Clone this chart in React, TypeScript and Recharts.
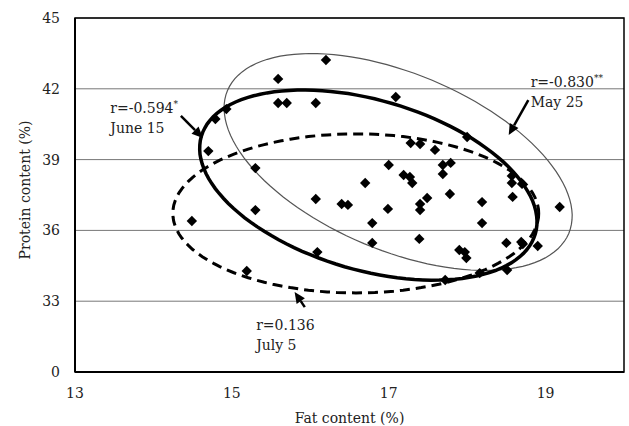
import { ScatterChart, Scatter, XAxis, YAxis, CartesianGrid, ReferenceArea } from 'recharts';

// fat (%) and protein (%) of each sample
const fatContent = [
  15.59, 16.2, 15.59, 15.7, 16.07, 17.09, 14.93, 14.79, 14.7, 15.3, 15.3, 14.49, 16.07, 16.09,
  15.19, 18.0, 17.28, 17.4, 17.59, 17.0, 17.19, 17.27, 17.3, 17.69, 17.79, 17.69, 16.7, 17.78,
  18.57, 18.57, 18.7, 18.58, 18.19, 19.18, 18.19, 16.4, 16.48, 16.99, 17.4, 17.4, 17.49, 16.79,
  16.79, 17.39, 17.9, 17.97, 17.99, 18.5, 18.69, 18.71, 18.9, 18.51, 18.16, 17.72,
];
const proteinContent = [
  42.42, 43.22, 41.4, 41.4, 41.4, 41.65, 41.14, 40.72, 39.36, 38.64, 36.86, 36.4, 37.33, 35.08,
  34.28, 39.96, 39.7, 39.66, 39.41, 38.77, 38.35, 38.26, 38.01, 38.77, 38.86, 38.39, 38.01, 37.54,
  38.31, 38.01, 37.97, 37.42, 37.2, 36.99, 36.31, 37.12, 37.08, 36.91, 37.12, 36.86, 37.37, 36.31,
  35.47, 35.64, 35.17, 35.08, 34.83, 35.47, 35.51, 35.42, 35.34, 34.32, 34.19, 33.9,
];

// ellipses per sampling date: centre and two conjugate half-axes, in data units
const ellipseDates = ['May 25', 'June 15', 'July 5'];
const ellipseCenterX = [17.12, 16.74, 16.58];
const ellipseCenterY = [38.9, 37.92, 36.72];
const ellipseUx = [2.176, 2.129, 2.333];
const ellipseUy = [-3.025, -2.069, 0];
const ellipseVx = [-0.435, -0.304, 0];
const ellipseVy = [-3.459, -3.457, -3.369];

// annotation labels
const labelR = ['r=-0.830', 'r=-0.594', 'r=0.136'];
const labelSig = ['**', '*', ''];
const labelX = [18.81, 13.45, 15.31];
const labelY = [42.08, 40.97, 31.78];
// arrows: tail -> head
const arrowTailX = [18.78, 14.35, 15.93];
const arrowTailY = [41.52, 40.85, 32.75];
const arrowHeadX = [18.53, 14.63, 15.8];
const arrowHeadY = [40.04, 39.92, 33.39];

const xTicks = [13, 15, 17, 19];
const yTicks = [30, 33, 36, 39, 42, 45];

const points = fatContent.map((x, i) => ({ x, y: proteinContent[i] }));
const ellipses = ellipseDates.map((d, i) => ({
  date: d, x: ellipseCenterX[i], y: ellipseCenterY[i],
  ux: ellipseUx[i], uy: ellipseUy[i], vx: ellipseVx[i], vy: ellipseVy[i],
}));
const labels = ellipseDates.map((d, i) => ({ date: d, r: labelR[i], sig: labelSig[i], x: labelX[i], y: labelY[i] }));
const arrows = ellipseDates.map((d, i) => ({
  x: arrowHeadX[i], y: arrowHeadY[i], tx: arrowTailX[i], ty: arrowTailY[i],
}));

const W = 629;
const H = 426;
const MARGIN = { top: 18, right: 5, bottom: 0, left: 0 };
const Y_AXIS_W = 75;
const X_AXIS_H = 54;
const PX_X = (W - MARGIN.right - Y_AXIS_W) / 7;
const PX_Y = (H - MARGIN.top - X_AXIS_H) / 15;

const FONT = 'DejaVu Serif';
const ellipseStyle = [
  { stroke: '#555', strokeWidth: 1.2 },
  { stroke: '#000', strokeWidth: 3.5 },
  { stroke: '#000', strokeWidth: 3, strokeDasharray: '10 6' },
];

const Diamond = (p: any) => {
  const { cx, cy } = p;
  const r = 5.2;
  return <polygon points={`${cx},${cy - r} ${cx + r},${cy} ${cx},${cy + r} ${cx - r},${cy}`} fill="#000" />;
};

const EllipseShape = (p: any) => {
  const { cx, cy, payload, index } = p;
  const pts: string[] = [];
  for (let k = 0; k <= 120; k++) {
    const t = (k / 120) * Math.PI * 2;
    const dx = payload.ux * Math.cos(t) + payload.vx * Math.sin(t);
    const dy = payload.uy * Math.cos(t) + payload.vy * Math.sin(t);
    pts.push(`${(cx + dx * PX_X).toFixed(1)},${(cy - dy * PX_Y).toFixed(1)}`);
  }
  return <path d={`M${pts.join('L')}Z`} fill="none" {...ellipseStyle[index]} />;
};

const LabelShape = (p: any) => {
  const { cx, cy, payload } = p;
  return (
    <text x={cx} y={cy} fontFamily={FONT} fontSize={14} fill="#222">
      <tspan>{payload.r}</tspan>
      {payload.sig && <tspan fontSize={9} dy={-6}>{payload.sig}</tspan>}
      <tspan x={cx} dy={payload.sig ? 26 : 20}>{payload.date === 'July 5' ? 'July  5' : payload.date}</tspan>
    </text>
  );
};

const ArrowShape = (p: any) => {
  const { cx, cy, payload } = p;
  const x0 = cx + (payload.tx - payload.x) * PX_X;
  const y0 = cy - (payload.ty - payload.y) * PX_Y;
  const ang = Math.atan2(cy - y0, cx - x0);
  const len = 11;
  const half = 5;
  const bx = cx - len * Math.cos(ang);
  const by = cy - len * Math.sin(ang);
  const nx = -Math.sin(ang);
  const ny = Math.cos(ang);
  return (
    <g>
      <line x1={x0} y1={y0} x2={bx} y2={by} stroke="#000" strokeWidth={2.5} />
      <polygon
        points={`${cx},${cy} ${bx + nx * half},${by + ny * half} ${bx - nx * half},${by - ny * half}`}
        fill="#000"
      />
    </g>
  );
};

export default function App() {
  return (
    <div style={{ position: 'absolute', left: 0, top: 0, width: W, height: H, background: '#fff' }}>
      <ScatterChart width={W} height={H} margin={MARGIN}>
        <CartesianGrid vertical={false} stroke="#777" strokeWidth={1} />
        <XAxis
          type="number"
          dataKey="x"
          domain={[13, 20]}
          ticks={xTicks}
          height={X_AXIS_H}
          tickLine={false}
          tickMargin={10}
          axisLine={{ stroke: '#000', strokeWidth: 2 }}
          tick={{ fontFamily: FONT, fontSize: 14, fill: '#222' }}
          label={{ value: 'Fat content (%)', position: 'insideBottom', offset: 3, fontFamily: FONT, fontSize: 14, fill: '#222' }}
        />
        <YAxis
          type="number"
          dataKey="y"
          domain={[30, 45]}
          ticks={yTicks}
          width={Y_AXIS_W}
          tickLine={false}
          tickMargin={9}
          tickFormatter={(v: number) => (v === 30 ? '0' : String(v))}
          axisLine={{ stroke: '#000', strokeWidth: 2 }}
          tick={{ fontFamily: FONT, fontSize: 14, fill: '#222' }}
          label={{
            content: ({ viewBox }: any) => {
              const x = viewBox.x + 25;
              const y = viewBox.y + viewBox.height / 2 - 5;
              return (
                <text x={x} y={y} transform={`rotate(-90 ${x} ${y})`} textAnchor="middle" dominantBaseline="central"
                  fontFamily={FONT} fontSize={14} fill="#222">
                  Protein content (%)
                </text>
              );
            },
          }}
        />
        <ReferenceArea x1={13} x2={20} y1={30} y2={45} fill="none" stroke="#000" strokeWidth={1.5} />
        <Scatter data={ellipses} shape={EllipseShape} isAnimationActive={false} />
        <Scatter data={points} shape={Diamond} isAnimationActive={false} />
        <Scatter data={arrows} shape={ArrowShape} isAnimationActive={false} />
        <Scatter data={labels} shape={LabelShape} isAnimationActive={false} />
      </ScatterChart>
    </div>
  );
}
